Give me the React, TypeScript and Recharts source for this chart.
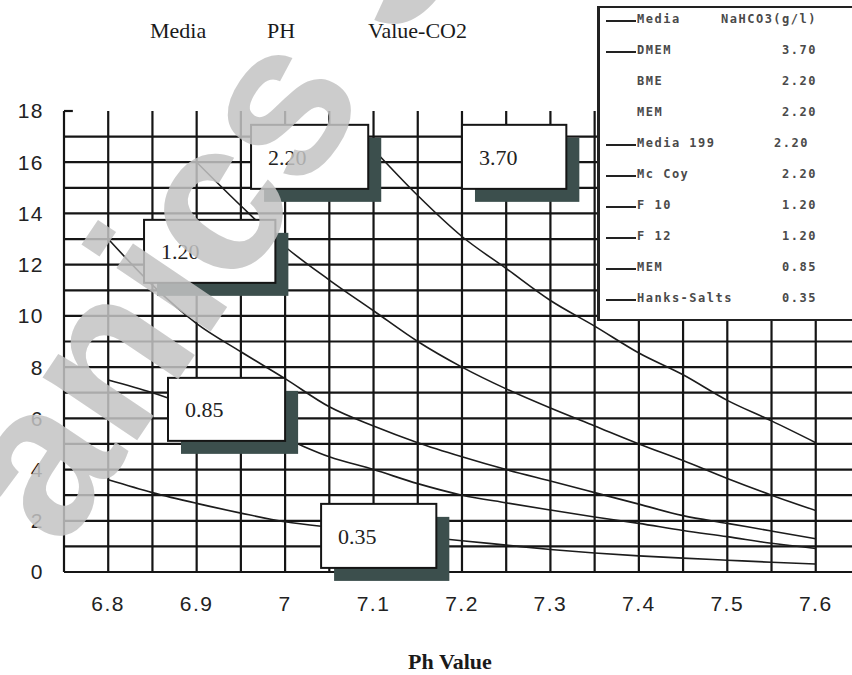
import React from "react";
import {
  LineChart,
  Line,
  XAxis,
  YAxis,
  ReferenceLine,
  ReferenceArea,
} from "recharts";

// pH values where the curves are sampled (grid step 0.05)
const phValues = [6.8, 6.85, 6.9, 6.95, 7.0, 7.05, 7.1, 7.15, 7.2, 7.25, 7.3, 7.35, 7.4, 7.45, 7.5, 7.55, 7.6];

// CO2 % for each NaHCO3 concentration (g/l)
const co2At370 = [null, null, null, null, null, null, 16.5, 14.7, 13.1, 11.85, 10.6, 9.6, 8.55, 7.7, 6.7, 5.9, 5.05];
const co2At220 = [null, null, 16.0, 14.3, 12.7, 11.4, 10.2, 9.0, 8.0, 7.15, 6.4, 5.7, 5.0, 4.35, 3.65, 3.0, 2.4];
const co2At120 = [13.0, 11.2, 9.7, 8.6, 7.55, 6.45, 5.7, 5.05, 4.5, 4.0, 3.55, 3.1, 2.65, 2.2, 1.9, 1.6, 1.3];
const co2At085 = [7.5, 7.0, 6.4, 5.8, 5.2, 4.5, 4.0, 3.45, 3.0, 2.7, 2.42, 2.15, 1.9, 1.62, 1.38, 1.12, 0.92];
const co2At035 = [3.6, 3.1, 2.68, 2.3, 1.96, 1.75, 1.58, 1.4, 1.22, 1.05, 0.88, 0.74, 0.63, 0.54, 0.46, 0.38, 0.31];

const seriesKeys = ["s370", "s220", "s120", "s085", "s035"];
const seriesValues = [co2At370, co2At220, co2At120, co2At085, co2At035];

const xTickLabels = [6.8, 6.9, 7.0, 7.1, 7.2, 7.3, 7.4, 7.5, 7.6];
const yTickLabels = [0, 2, 4, 6, 8, 10, 12, 14, 16, 18];
const gridX = [6.75, 6.8, 6.85, 6.9, 6.95, 7.0, 7.05, 7.1, 7.15, 7.2, 7.25, 7.3, 7.35, 7.4, 7.45, 7.5, 7.55, 7.6];
const gridY = [0, 1, 2, 3, 4, 5, 6, 7, 8, 9, 10, 11, 12, 13, 14, 15, 16, 17];

// curve labels
const boxLabels = ["2.20", "3.70", "1.20", "0.85", "0.35"];

// legend table
const legendNames = ["Media", "DMEM", "BME", "MEM", "Media 199", "Mc Coy", "F 10", "F 12", "MEM", "Hanks-Salts"];
const legendValues = ["NaHCO3(g/l)", "3.70", "2.20", "2.20", "2.20", "2.20", "1.20", "1.20", "0.85", "0.35"];
const legendHasLine = [true, true, false, false, true, true, true, true, true, true];

// where the label boxes sit, in data units
const boxPlacement = [
  { x1: 6.9615, x2: 7.094, y1: 14.96, y2: 17.46 },
  { x1: 7.2, x2: 7.318, y1: 14.96, y2: 17.46 },
  { x1: 6.8405, x2: 6.989, y1: 11.29, y2: 13.75 },
  { x1: 6.8676, x2: 7.0, y1: 5.12, y2: 7.58 },
  { x1: 7.0407, x2: 7.171, y1: 0.16, y2: 2.66 },
];

const data = phValues.map((ph, i) => {
  const row: Record<string, number | null> = { ph };
  seriesKeys.forEach((k, j) => {
    row[k] = seriesValues[j][i];
  });
  return row;
});

const INK = "#151515";
const SHADOW = "#3c4f4d";

function LabelBox(props: any) {
  const { x, y, width, height, text } = props;
  if (x == null || y == null) return null;
  return (
    <g>
      <rect x={x + 13} y={y + 13} width={width} height={height} fill={SHADOW} />
      <rect x={x} y={y} width={width} height={height} fill="#fff" stroke={INK} strokeWidth={2} />
      <text
        x={x + 17}
        y={y + height / 2}
        dy="0.35em"
        fontFamily="'Liberation Serif', 'Times New Roman', serif"
        fontSize={22}
        fill="#222"
      >
        {text}
      </text>
    </g>
  );
}

const tickStyle = {
  fill: "#222",
  fontSize: 21,
  fontFamily: "'Liberation Sans', Arial, sans-serif",
  letterSpacing: 1.5,
};

export default function App() {
  return (
    <div
      style={{
        position: "absolute",
        left: 0,
        top: 0,
        width: 852,
        height: 675,
        overflow: "hidden",
        background: "#fff",
      }}
    >
      <LineChart width={852} height={675} data={data} margin={{ top: 111, right: 0, bottom: 43, left: 0 }}>
        <XAxis
          dataKey="ph"
          type="number"
          domain={[6.75, 7.641]}
          ticks={xTickLabels}
          tickFormatter={(v) => String(Number(Number(v).toFixed(1)))}
          axisLine={false}
          tickLine={false}
          tickSize={0}
          tickMargin={24}
          height={60}
          tick={tickStyle}
          allowDataOverflow
        />
        <YAxis
          type="number"
          domain={[0, 18]}
          ticks={yTickLabels}
          axisLine={false}
          tickLine={false}
          tickSize={0}
          tickMargin={20}
          width={64}
          tick={tickStyle}
          allowDataOverflow
        />
        {gridY.map((v) => (
          <ReferenceLine key={"gy" + v} y={v} stroke={INK} strokeWidth={2.2} zIndex={-50} />
        ))}
        {gridX.map((v) => (
          <ReferenceLine key={"gx" + v} x={v} stroke={INK} strokeWidth={2.2} zIndex={-50} />
        ))}
        <ReferenceLine
          segment={[
            { x: 6.75, y: 18 },
            { x: 6.76, y: 18 },
          ]}
          stroke={INK}
          strokeWidth={2.2}
          zIndex={-50}
        />
        {seriesKeys.map((k) => (
          <Line
            key={k}
            type="monotone"
            dataKey={k}
            stroke="#1c1c1c"
            strokeWidth={1.6}
            dot={false}
            activeDot={false}
            isAnimationActive={false}
          />
        ))}
        {boxPlacement.map((b, i) => (
          <ReferenceArea
            key={"box" + i}
            x1={b.x1}
            x2={b.x2}
            y1={b.y1}
            y2={b.y2}
            ifOverflow="visible"
            zIndex={1500}
            shape={(p: any) => <LabelBox {...p} text={boxLabels[i]} />}
          />
        ))}
      </LineChart>

      {/* title */}
      <div
        style={{
          position: "absolute",
          top: 18,
          left: 0,
          width: 600,
          height: 30,
          fontFamily: "'Liberation Serif', 'Times New Roman', serif",
          fontSize: 22,
          color: "#1a1a1a",
        }}
      >
        <span style={{ position: "absolute", left: 150 }}>Media</span>
        <span style={{ position: "absolute", left: 267 }}>PH</span>
        <span style={{ position: "absolute", left: 368 }}>Value-CO2</span>
      </div>

      {/* x axis title */}
      <div
        style={{
          position: "absolute",
          top: 649,
          left: 350,
          width: 200,
          textAlign: "center",
          fontFamily: "'Liberation Serif', 'Times New Roman', serif",
          fontWeight: "bold",
          fontSize: 22,
          color: "#1a1a1a",
        }}
      >
        Ph Value
      </div>

      {/* legend table */}
      <div
        style={{
          position: "absolute",
          left: 597,
          top: 6,
          width: 280,
          height: 311,
          background: "#fff",
          borderTop: "2px solid #222",
          borderLeft: "3px solid #222",
          borderBottom: "2px solid #222",
          fontFamily: "'DejaVu Sans Mono', 'Liberation Mono', monospace",
          fontWeight: "bold",
          fontSize: 12,
          letterSpacing: 1.5,
          color: "#4a4a4a",
        }}
      >
        {legendNames.map((name, i) => (
          <div key={i} style={{ position: "absolute", top: 4 + i * 31, left: 0, width: 280, height: 18 }}>
            {legendHasLine[i] && (
              <div style={{ position: "absolute", left: 6, top: 8, width: 30, height: 2, background: "#222" }} />
            )}
            <span style={{ position: "absolute", left: 37, top: 0 }}>{name}</span>
            <span
              style={{
                position: "absolute",
                right: 280 - 217 + (name === "Media 199" ? 8 : 0),
                top: 0,
                whiteSpace: "nowrap",
              }}
            >
              {legendValues[i]}
            </span>
          </div>
        ))}
      </div>

      {/* watermark */}
      <svg
        width={852}
        height={675}
        style={{ position: "absolute", left: 0, top: 0, pointerEvents: "none", opacity: 0.85 }}
      >
        <text
          x={62}
          y={552}
          transform="rotate(-56, 62, 552)"
          fontFamily="'Liberation Sans', Arial, sans-serif"
          fontWeight="bold"
          fontSize={215}
          fill="#c4c4c4"
        >
          anics S
        </text>
      </svg>
    </div>
  );
}
